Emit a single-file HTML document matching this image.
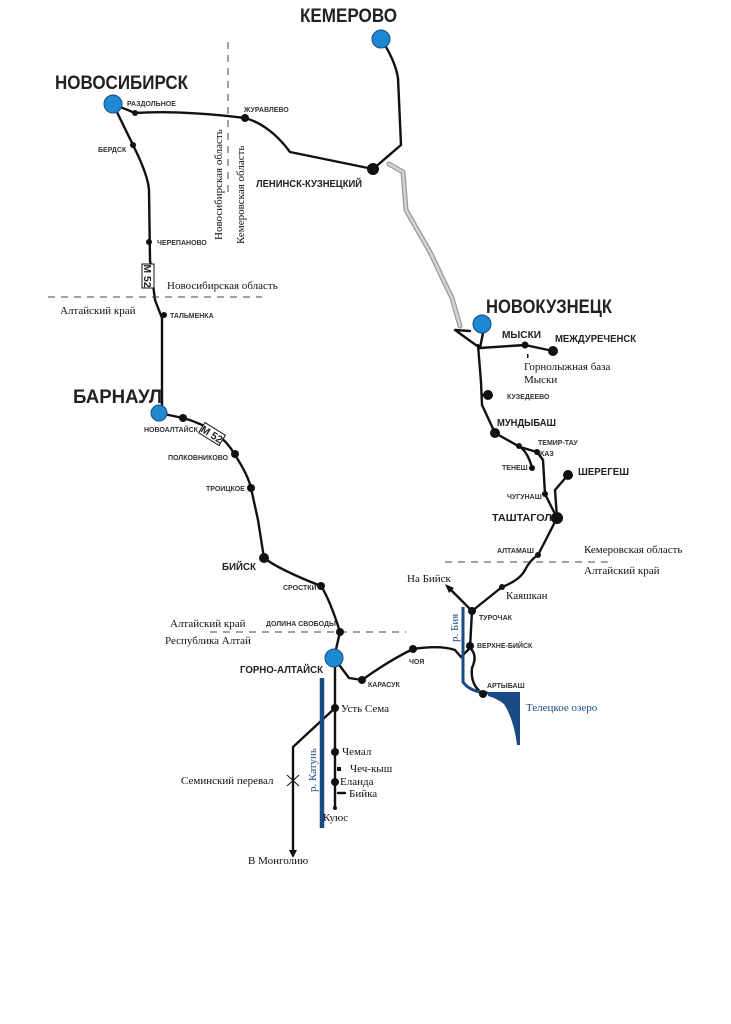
<!DOCTYPE html>
<html><head><meta charset="utf-8"><style>
html,body{margin:0;padding:0;background:#fff;}
svg{display:block}
.b{font-family:"Liberation Sans",sans-serif;font-weight:bold;fill:#222}
.s{font-family:"Liberation Sans",sans-serif;font-weight:bold;font-size:7px;fill:#333}
.m{font-family:"Liberation Sans",sans-serif;font-weight:bold;font-size:10.5px;fill:#222}
.r{font-family:"Liberation Serif",serif;font-size:11px;fill:#111}
.bl{font-family:"Liberation Serif",serif;font-size:11px;fill:#1a4a86}
</style></head><body>
<svg width="731" height="1024" viewBox="0 0 731 1024" xmlns="http://www.w3.org/2000/svg">
<g fill="none" stroke="#111" stroke-width="2.4" stroke-linecap="round" stroke-linejoin="round">
<path d="M389,164 L403,172 L406,210 L430,252 L452,298 L460,326" stroke="#999" stroke-width="5"/>
<path d="M389,164 L403,172 L406,210 L430,252 L452,298 L460,326" stroke="#d4d4d4" stroke-width="2.5"/>
<path d="M381,39 Q395,60 398,78 L401,145 L373,169"/>
<path d="M113,104 L135,113 Q180,110 245,118 Q270,125 290,152 L373,169"/>
<path d="M113,104 L133,145 Q148,175 149,190 L150,260 L155,300 L162,318 L162,405 L159,413"/>
<path d="M159,413 L183,418 Q220,428 235,455 Q248,475 251,488 L258,520 L264,558 Q280,570 321,586 Q330,600 340,632 L334,658"/>
<path d="M334,658 L349,678 L362,680 Q390,660 413,649 Q440,645 455,650 L461,657"/>
<path d="M335,660 L335,808"/>
<path d="M335,708 L293,747 L293,850"/>
<path d="M461,657 L470,648 L472,611 L450,589"/>
<path d="M470,648 Q478,655 472,668 Q470,685 483,694"/>
<path d="M472,611 L502,587 Q520,580 525,570 Q530,560 538,555 L557,518 L545,494 L543,460 L537,452 L520,447 L495,433 L482,405 L481,382 L478,345 L480,348"/>
<path d="M519,446 Q528,452 532,468"/>
<path d="M557,518 L555,490 L568,475"/>
<path d="M455,330 L480,348 L483,333 M455,330 L470,331 M480,348 L525,345 L553,351"/>
<path d="M482,395 L488,395"/>
<path d="M338,793 L345,793"/>
</g>
<polygon points="289,850 297,850 293,858" fill="#111"/>
<polygon points="445,584 454,588 449,593" fill="#111"/>
<path d="M287,775 L299,786 M299,775 L287,786" stroke="#111" stroke-width="1"/>
<path d="M322,678 L322,828" stroke="#1a4a86" stroke-width="4.5" fill="none"/>
<path d="M463,607 L463,682 Q470,692 488,693" stroke="#1a4a86" stroke-width="3" fill="none"/>
<path d="M488,692 L520,692 L520,745 L517,745 Q514,720 504,704 Q496,698 488,696 Z" fill="#1a4a86"/>
<g stroke="#444" stroke-width="1" stroke-dasharray="7,6" fill="none">
<path d="M228,42 L228,195"/>
<path d="M48,297 L262,297"/>
<path d="M445,562 L612,562"/>
<path d="M210,632 L406,632"/>
</g>
<g fill="#111">
<circle cx="135" cy="113" r="3"/><circle cx="245" cy="118" r="4"/><circle cx="373" cy="169" r="6"/>
<circle cx="133" cy="145" r="3"/><circle cx="149" cy="242" r="3"/><circle cx="164" cy="315" r="3"/>
<circle cx="183" cy="418" r="4"/><circle cx="235" cy="454" r="4"/><circle cx="251" cy="488" r="4"/>
<circle cx="264" cy="558" r="5"/><circle cx="321" cy="586" r="4"/><circle cx="340" cy="632" r="4"/>
<circle cx="362" cy="680" r="4"/><circle cx="413" cy="649" r="4"/><circle cx="470" cy="646" r="4"/>
<circle cx="472" cy="611" r="4"/><circle cx="483" cy="694" r="4"/><circle cx="502" cy="587" r="3"/>
<circle cx="538" cy="555" r="3"/><circle cx="557" cy="518" r="6"/><circle cx="545" cy="494" r="3"/>
<circle cx="568" cy="475" r="5"/><circle cx="532" cy="468" r="3"/><circle cx="537" cy="452" r="3"/>
<circle cx="519" cy="446" r="3"/><circle cx="495" cy="433" r="5"/><circle cx="488" cy="395" r="5"/>
<circle cx="525" cy="345" r="3.5"/><circle cx="553" cy="351" r="5"/>
<circle cx="335" cy="708" r="4"/><circle cx="335" cy="752" r="4"/><circle cx="335" cy="782" r="4"/>
<rect x="337" y="767" width="4" height="4"/><circle cx="335" cy="808" r="2"/>
<rect x="527" y="354" width="1.5" height="4"/>
</g>
<g fill="#1e88d0" stroke="#1a4a86" stroke-width="1">
<circle cx="381" cy="39" r="9"/><circle cx="113" cy="104" r="9"/><circle cx="482" cy="324" r="9"/>
<circle cx="159" cy="413" r="8"/><circle cx="334" cy="658" r="9"/>
</g>
<g transform="translate(148,276) rotate(90)"><rect x="-12" y="-6" width="24" height="12" fill="#fff" stroke="#111"/><text x="0" y="4" text-anchor="middle" class="m" font-size="9">M 52</text></g>
<g transform="translate(212,434) rotate(32)"><rect x="-12" y="-6" width="24" height="12" fill="#fff" stroke="#111"/><text x="0" y="4" text-anchor="middle" class="m" font-size="9">M 52</text></g>
<text x="300" y="22" class="b" font-size="19" textLength="97" lengthAdjust="spacingAndGlyphs">КЕМЕРОВО</text>
<text x="55" y="89" class="b" font-size="19" textLength="133" lengthAdjust="spacingAndGlyphs">НОВОСИБИРСК</text>
<text x="486" y="313" class="b" font-size="19" textLength="126" lengthAdjust="spacingAndGlyphs">НОВОКУЗНЕЦК</text>
<text x="73" y="403" class="b" font-size="19" textLength="89" lengthAdjust="spacingAndGlyphs">БАРНАУЛ</text>
<text x="256" y="187" class="m" textLength="106" lengthAdjust="spacingAndGlyphs">ЛЕНИНСК-КУЗНЕЦКИЙ</text>
<text x="502" y="338" class="m" textLength="39" lengthAdjust="spacingAndGlyphs">МЫСКИ</text>
<text x="555" y="342" class="m" textLength="81" lengthAdjust="spacingAndGlyphs">МЕЖДУРЕЧЕНСК</text>
<text x="497" y="426" class="m" textLength="59" lengthAdjust="spacingAndGlyphs">МУНДЫБАШ</text>
<text x="578" y="475" class="m" textLength="51" lengthAdjust="spacingAndGlyphs">ШЕРЕГЕШ</text>
<text x="492" y="521" class="m" textLength="60" lengthAdjust="spacingAndGlyphs">ТАШТАГОЛ</text>
<text x="222" y="570" class="m" textLength="34" lengthAdjust="spacingAndGlyphs">БИЙСК</text>
<text x="240" y="673" class="m" textLength="83" lengthAdjust="spacingAndGlyphs">ГОРНО-АЛТАЙСК</text>
<text x="127" y="106" class="s">РАЗДОЛЬНОЕ</text>
<text x="244" y="112" class="s">ЖУРАВЛЕВО</text>
<text x="98" y="152" class="s">БЕРДСК</text>
<text x="157" y="245" class="s">ЧЕРЕПАНОВО</text>
<text x="170" y="318" class="s">ТАЛЬМЕНКА</text>
<text x="144" y="432" class="s">НОВОАЛТАЙСК</text>
<text x="168" y="460" class="s">ПОЛКОВНИКОВО</text>
<text x="206" y="491" class="s">ТРОИЦКОЕ</text>
<text x="283" y="590" class="s">СРОСТКИ</text>
<text x="266" y="626" class="s">ДОЛИНА СВОБОДЫ</text>
<text x="368" y="687" class="s">КАРАСУК</text>
<text x="409" y="664" class="s">ЧОЯ</text>
<text x="479" y="620" class="s">ТУРОЧАК</text>
<text x="477" y="648" class="s">ВЕРХНЕ-БИЙСК</text>
<text x="487" y="688" class="s">АРТЫБАШ</text>
<text x="497" y="553" class="s">АЛТАМАШ</text>
<text x="507" y="499" class="s">ЧУГУНАШ</text>
<text x="502" y="470" class="s">ТЕНЕШ</text>
<text x="538" y="445" class="s">ТЕМИР-ТАУ</text>
<text x="540" y="456" class="s">КАЗ</text>
<text x="507" y="399" class="s">КУЗЕДЕЕВО</text>
<text class="r" transform="translate(222,240) rotate(-90)">Новосибирская область</text>
<text class="r" transform="translate(244,244) rotate(-90)">Кемеровская область</text>
<text x="167" y="289" class="r">Новосибирская область</text>
<text x="60" y="314" class="r">Алтайский край</text>
<text x="524" y="370" class="r">Горнолыжная база</text>
<text x="524" y="383" class="r">Мыски</text>
<text x="584" y="553" class="r">Кемеровская область</text>
<text x="584" y="574" class="r">Алтайский край</text>
<text x="407" y="582" class="r">На Бийск</text>
<text x="506" y="599" class="r">Каяшкан</text>
<text x="170" y="627" class="r">Алтайский край</text>
<text x="165" y="644" class="r">Республика Алтай</text>
<text x="526" y="711" class="bl">Телецкое озеро</text>
<text class="bl" transform="translate(458,642) rotate(-90)">р. Бия</text>
<text class="bl" transform="translate(316,792) rotate(-90)">р. Катунь</text>
<text x="341" y="712" class="r">Усть Сема</text>
<text x="342" y="755" class="r">Чемал</text>
<text x="350" y="772" class="r">Чеч-кыш</text>
<text x="340" y="785" class="r">Еланда</text>
<text x="349" y="797" class="r">Бийка</text>
<text x="323" y="821" class="r">Куюс</text>
<text x="181" y="784" class="r">Семинский перевал</text>
<text x="248" y="864" class="r">В Монголию</text>
</svg>
</body></html>
